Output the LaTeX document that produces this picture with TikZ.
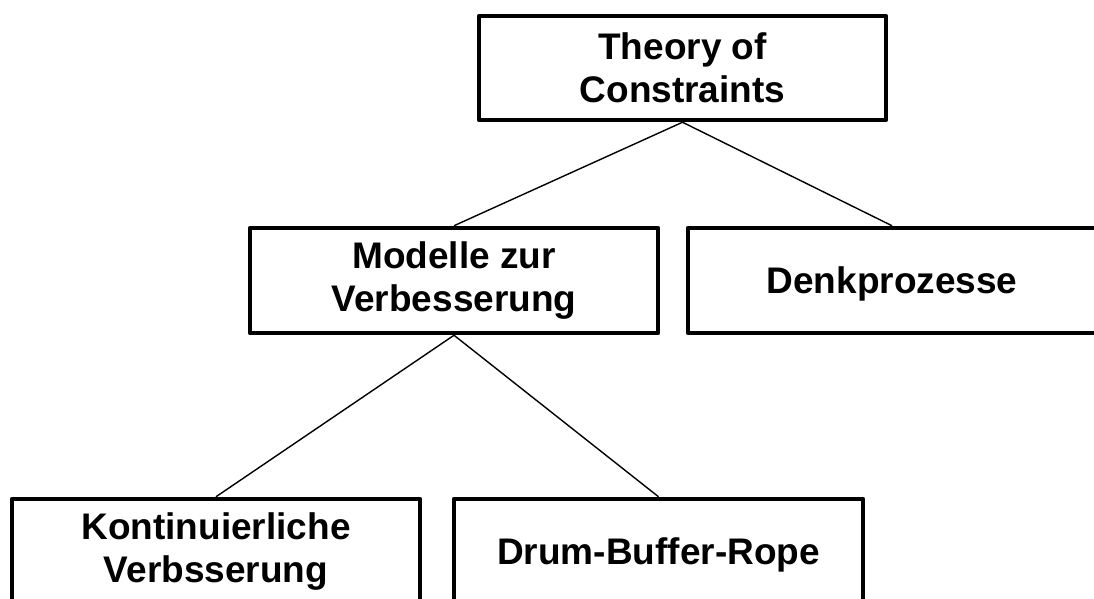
\documentclass[tikz,border=0pt]{standalone}
\usepackage{fontspec}
\setmainfont{Liberation Sans}
\begin{document}
\begin{tikzpicture}[x=1pt,y=-1pt,
  box/.style={draw=black, line width=4.5pt, line join=round, fill=white,
    align=center, inner sep=0pt, minimum height=105pt,
    execute at begin node={\rule{0pt}{33pt}},
    font=\fontsize{37}{42.5}\selectfont\bfseries},
  link/.style={draw=black, line width=1.4pt}]
  \useasboundingbox (0,0) rectangle (1094,599);
  \clip (0,0) rectangle (1094,599);
  % tree of TOC concepts
  \node[box, minimum width=407pt, minimum height=104pt] (toc) at (682.5,68) {Theory of\\Constraints};
  \node[box, minimum width=408pt] (mod) at (454,280.5) {Modelle zur\\Verbesserung};
  \node[box, minimum width=408pt] (denk) at (892,280.5) {Denkprozesse};
  \node[box, minimum width=408pt] (kont) at (216,551.5) {Kontinuierliche\\Verbsserung};
  \node[box, minimum width=409pt] (dbr) at (658.5,551.5) {Drum-Buffer-Rope};
  % connectors between parent and child boxes
  \draw[link] (toc.south) -- (mod.north);
  \draw[link] (toc.south) -- (denk.north);
  \draw[link] (mod.south) -- (kont.north);
  \draw[link] (mod.south) -- (dbr.north);
\end{tikzpicture}
\end{document}
